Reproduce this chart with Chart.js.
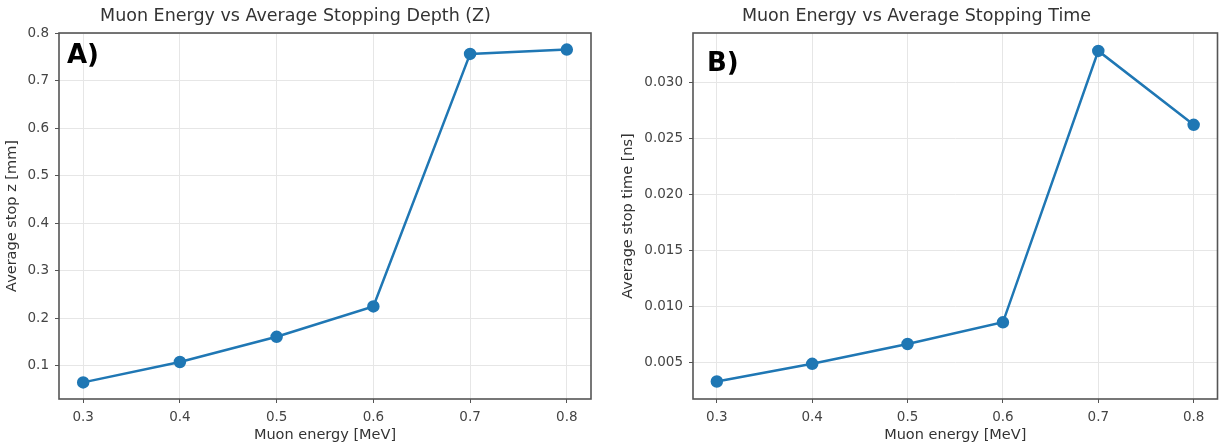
<!DOCTYPE html>
<html lang="en">
<head>
  <meta charset="UTF-8">
  <title>Muon Energy</title>
  <style>
    html, body {
      margin: 0;
      padding: 0;
      background: #fff;
    }

    .wrap {
      position: relative;
      width: 1225px;
      height: 446px;
    }

    .panel {
      position: absolute;
      top: 0;
      height: 446px;
    }

    #left {
      left: 0;
      width: 612px;
    }

    #right {
      left: 612px;
      width: 613px;
    }
  </style>
</head>
<body>
  <div class="wrap">
    <div class="panel" id="left"><canvas id="depthChart"></canvas></div>
    <div class="panel" id="right"><canvas id="timeChart"></canvas></div>
  </div>

  <script src="https://cdn.jsdelivr.net/npm/chart.js"></script>
  <script>
    // muon energies [MeV]
    const energies = [0.3, 0.4, 0.5, 0.6, 0.7, 0.8];
    // average stop z [mm]
    const stopDepth = [0.065, 0.108, 0.161, 0.225, 0.757, 0.766];
    // average stop time [ns]
    const stopTime = [0.00327, 0.00485, 0.00662, 0.00856, 0.0328, 0.0262];

    const depthTicks = [0.1, 0.2, 0.3, 0.4, 0.5, 0.6, 0.7, 0.8];
    const timeTicks = [0.005, 0.010, 0.015, 0.020, 0.025, 0.030];

    const FONT = 'DejaVu Sans';
    const lineBlue = '#1f77b4';

    // frame round the plot area plus the panel letter
    const framePlugin = {
      id: 'frame',
      afterDraw(chart, args, opts) {
        const { ctx, chartArea } = chart;
        ctx.save();
        ctx.strokeStyle = '#555';
        ctx.lineWidth = 1.6;
        ctx.strokeRect(chartArea.left, chartArea.top, chartArea.right - chartArea.left, chartArea.bottom - chartArea.top);
        ctx.fillStyle = '#000';
        ctx.font = 'bold 26px ' + FONT;
        ctx.textBaseline = 'top';
        ctx.textAlign = 'left';
        ctx.fillText(opts.letter, chartArea.left + opts.dx, chartArea.top + opts.dy);
        ctx.restore();
      }
    };

    function makeChart(id, values, ticks, opt) {
      const ctx = document.getElementById(id).getContext('2d');
      return new Chart(ctx, {
        type: 'line',
        data: {
          datasets: [{
            data: energies.map((e, i) => ({ x: e, y: values[i] })),
            borderColor: lineBlue,
            backgroundColor: lineBlue,
            borderWidth: 2.5,
            pointRadius: 5,
            pointHoverRadius: 5,
            tension: 0
          }]
        },
        options: {
          responsive: true,
          maintainAspectRatio: false,
          animation: false,
          layout: {
            padding: { left: 0, right: opt.padRight, top: 0, bottom: 0 }
          },
          plugins: {
            legend: { display: false },
            tooltip: { enabled: false },
            title: {
              display: true,
              text: opt.title,
              color: '#333',
              font: { family: FONT, size: 17.5, weight: 'normal' },
              padding: { top: 6, bottom: 6 }
            },
            frame: { letter: opt.letter, dx: opt.letterDx, dy: opt.letterDy }
          },
          scales: {
            x: {
              type: 'linear',
              min: 0.275,
              max: 0.825,
              afterFit(scale) { scale.height = 47; },
              afterBuildTicks(scale) { scale.ticks = energies.map(v => ({ value: v })); },
              ticks: {
                color: '#444',
                font: { family: FONT, size: 13.5 },
                padding: 6,
                maxRotation: 0,
                callback: v => v.toFixed(1)
              },
              grid: { color: '#e6e6e6', tickColor: '#555', tickLength: 4 },
              border: { display: false },
              title: {
                display: true,
                text: 'Muon energy [MeV]',
                color: '#333',
                font: { family: FONT, size: 14.5 },
                padding: { top: 0, bottom: 2 }
              }
            },
            y: {
              type: 'linear',
              min: opt.yMin,
              max: opt.yMax,
              afterFit(scale) { scale.width = opt.yWidth; },
              afterBuildTicks(scale) { scale.ticks = ticks.map(v => ({ value: v })); },
              ticks: {
                color: '#444',
                font: { family: FONT, size: 13.5 },
                padding: 6,
                callback: v => v.toFixed(opt.digits)
              },
              grid: { color: '#e6e6e6', tickColor: '#555', tickLength: 4 },
              border: { display: false },
              title: {
                display: true,
                text: opt.yTitle,
                color: '#333',
                font: { family: FONT, size: 14.5 },
                padding: { top: opt.yTitlePad, bottom: 0 }
              }
            }
          }
        },
        plugins: [framePlugin]
      });
    }

    makeChart('depthChart', stopDepth, depthTicks, {
      title: 'Muon Energy vs Average Stopping Depth (Z)',
      yTitle: 'Average stop z [mm]',
      yMin: 0.030, yMax: 0.801, digits: 1,
      yWidth: 59, padRight: 21, yTitlePad: 4,
      letter: 'A)', letterDx: 8, letterDy: 10
    });

    makeChart('timeChart', stopTime, timeTicks, {
      title: 'Muon Energy vs Average Stopping Time',
      yTitle: 'Average stop time [ns]',
      yMin: 0.00171, yMax: 0.0344, digits: 3,
      yWidth: 81, padRight: 4, yTitlePad: 8,
      letter: 'B)', letterDx: 14, letterDy: 18
    });
  </script>
</body>
</html>
